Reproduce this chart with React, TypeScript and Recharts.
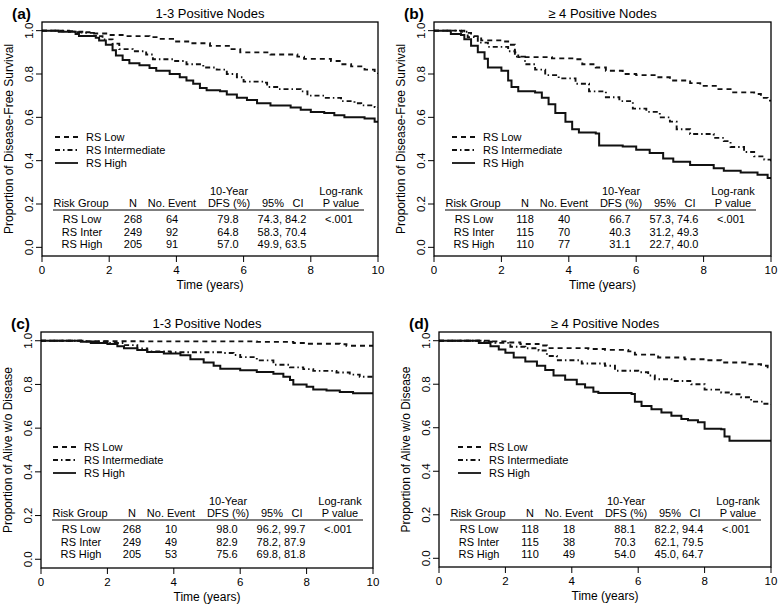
import React from 'react';
import { LineChart, Line, XAxis, YAxis } from 'recharts';

type Pt = [number, number];

// (a) 1-3 positive nodes, disease-free survival
const lowA: Pt[] = [[0, 1], [0.6, 0.997], [1.0, 0.993], [1.5, 0.987], [2.0, 0.98], [2.4, 0.975], [3.2, 0.97], [3.5, 0.962], [3.9, 0.95], [4.4, 0.942], [5.0, 0.93], [5.6, 0.915], [5.9, 0.9], [6.8, 0.89], [7.6, 0.88], [7.8, 0.87], [8.6, 0.86], [8.9, 0.845], [9.2, 0.835], [9.6, 0.82], [9.9, 0.805], [10, 0.8]];
const interA: Pt[] = [[0, 1], [0.8, 0.995], [1.2, 0.99], [1.6, 0.975], [1.8, 0.96], [2.1, 0.94], [2.3, 0.915], [2.7, 0.905], [3.1, 0.89], [3.3, 0.868], [3.9, 0.86], [4.3, 0.845], [4.8, 0.83], [5.2, 0.82], [5.5, 0.8], [5.8, 0.785], [6.0, 0.765], [6.6, 0.76], [6.7, 0.74], [7.0, 0.73], [7.7, 0.72], [7.9, 0.7], [8.4, 0.69], [8.9, 0.675], [9.3, 0.665], [9.5, 0.655], [9.9, 0.648], [10, 0.645]];
const highA: Pt[] = [[0, 1], [0.5, 0.995], [1.0, 0.985], [1.1, 0.975], [1.6, 0.967], [1.7, 0.955], [1.9, 0.935], [2.1, 0.91], [2.2, 0.885], [2.4, 0.865], [2.6, 0.85], [2.9, 0.84], [3.2, 0.828], [3.4, 0.815], [3.8, 0.8], [4.1, 0.785], [4.3, 0.77], [4.5, 0.755], [4.7, 0.735], [4.9, 0.725], [5.3, 0.72], [5.5, 0.705], [5.8, 0.69], [6.1, 0.68], [6.4, 0.665], [6.8, 0.655], [7.4, 0.645], [7.7, 0.635], [8.0, 0.625], [8.4, 0.62], [8.7, 0.61], [9.0, 0.6], [9.6, 0.595], [9.9, 0.58], [10, 0.575]];

// (b) >=4 positive nodes, disease-free survival
const lowB: Pt[] = [[0, 1], [0.9, 0.99], [1.1, 0.975], [1.4, 0.955], [2.0, 0.95], [2.2, 0.935], [2.4, 0.9], [2.5, 0.878], [3.5, 0.872], [4.2, 0.868], [4.4, 0.845], [4.8, 0.83], [5.1, 0.815], [5.6, 0.8], [6.0, 0.795], [6.6, 0.785], [7.0, 0.77], [7.6, 0.758], [7.9, 0.745], [8.4, 0.73], [8.8, 0.715], [9.5, 0.708], [9.7, 0.69], [9.9, 0.677], [10, 0.675]];
const interB: Pt[] = [[0, 1], [0.8, 0.995], [1.0, 0.97], [1.3, 0.945], [1.6, 0.925], [2.2, 0.905], [2.4, 0.88], [2.7, 0.845], [3.0, 0.82], [3.3, 0.795], [3.7, 0.78], [4.2, 0.755], [4.6, 0.72], [5.1, 0.693], [5.5, 0.675], [5.9, 0.64], [6.3, 0.625], [6.7, 0.6], [7.0, 0.58], [7.2, 0.545], [7.6, 0.523], [8.3, 0.505], [8.6, 0.49], [8.8, 0.463], [9.2, 0.44], [9.5, 0.42], [9.8, 0.405], [10, 0.395]];
const highB: Pt[] = [[0, 1], [0.5, 0.985], [0.8, 0.98], [0.9, 0.96], [1.1, 0.93], [1.3, 0.9], [1.5, 0.87], [1.6, 0.83], [2.0, 0.815], [2.2, 0.77], [2.3, 0.74], [2.5, 0.72], [3.0, 0.715], [3.2, 0.69], [3.4, 0.66], [3.6, 0.62], [3.9, 0.58], [4.1, 0.545], [4.3, 0.53], [4.8, 0.525], [4.9, 0.47], [5.6, 0.465], [6.0, 0.45], [6.4, 0.435], [6.8, 0.41], [7.1, 0.395], [7.6, 0.38], [8.3, 0.365], [8.6, 0.353], [9.1, 0.345], [9.6, 0.335], [9.9, 0.32], [10, 0.318]];

// (c) 1-3 positive nodes, alive without disease
const lowC: Pt[] = [[0, 1], [1.3, 0.998], [3.0, 0.997], [6.5, 0.995], [7.6, 0.99], [8.0, 0.986], [9.0, 0.984], [9.2, 0.977], [10, 0.977]];
const interC: Pt[] = [[0, 1], [1.3, 0.997], [2.0, 0.99], [2.5, 0.98], [2.9, 0.965], [3.2, 0.951], [3.9, 0.947], [5.5, 0.944], [5.8, 0.935], [6.0, 0.925], [6.5, 0.91], [7.0, 0.89], [7.5, 0.878], [7.9, 0.87], [8.2, 0.862], [8.9, 0.855], [9.3, 0.845], [9.6, 0.835], [10, 0.83]];
const highC: Pt[] = [[0, 1], [1.2, 0.995], [1.5, 0.99], [2.0, 0.985], [2.3, 0.975], [2.5, 0.966], [2.9, 0.958], [3.2, 0.948], [3.7, 0.942], [4.2, 0.934], [4.5, 0.915], [4.9, 0.9], [5.2, 0.885], [5.4, 0.872], [6.0, 0.865], [6.5, 0.857], [7.0, 0.849], [7.3, 0.835], [7.5, 0.82], [7.6, 0.8], [8.0, 0.79], [8.2, 0.777], [8.6, 0.772], [9.0, 0.765], [9.4, 0.76], [10, 0.755]];

// (d) >=4 positive nodes, alive without disease
const lowD: Pt[] = [[0, 1], [1.5, 0.997], [2.0, 0.992], [2.45, 0.985], [3.0, 0.978], [3.25, 0.966], [4.5, 0.962], [5.0, 0.958], [5.7, 0.951], [5.9, 0.936], [6.6, 0.923], [7.4, 0.915], [8.0, 0.91], [8.5, 0.9], [9.3, 0.892], [9.7, 0.885], [9.9, 0.878], [10, 0.876]];
const interD: Pt[] = [[0, 1], [1.3, 0.995], [1.7, 0.99], [2.15, 0.972], [2.6, 0.965], [3.0, 0.955], [3.25, 0.93], [3.55, 0.91], [4.3, 0.895], [5.0, 0.885], [5.3, 0.862], [6.0, 0.855], [6.3, 0.84], [6.5, 0.823], [7.0, 0.815], [7.6, 0.8], [8.0, 0.775], [8.5, 0.762], [8.8, 0.754], [9.1, 0.74], [9.4, 0.72], [9.8, 0.71], [10, 0.707]];
const highD: Pt[] = [[0, 1], [1.2, 0.99], [1.55, 0.975], [1.8, 0.96], [2.0, 0.945], [2.25, 0.923], [2.6, 0.905], [2.95, 0.885], [3.2, 0.865], [3.45, 0.84], [3.8, 0.82], [4.15, 0.8], [4.4, 0.785], [4.65, 0.765], [4.8, 0.76], [5.8, 0.755], [5.9, 0.72], [6.1, 0.7], [6.4, 0.685], [6.7, 0.67], [7.0, 0.655], [7.3, 0.64], [7.5, 0.635], [7.8, 0.625], [8.0, 0.595], [8.5, 0.593], [8.6, 0.56], [8.75, 0.54], [10, 0.54]];

// table rows: group, N, events, 10-year %, 95% CI, log-rank p
const tableA = [['RS Low', '268', '64', '79.8', '74.3, 84.2', '<.001'], ['RS Inter', '249', '92', '64.8', '58.3, 70.4', ''], ['RS High', '205', '91', '57.0', '49.9, 63.5', '']];
const tableB = [['RS Low', '118', '40', '66.7', '57.3, 74.6', '<.001'], ['RS Inter', '115', '70', '40.3', '31.2, 49.3', ''], ['RS High', '110', '77', '31.1', '22.7, 40.0', '']];
const tableC = [['RS Low', '268', '10', '98.0', '96.2, 99.7', '<.001'], ['RS Inter', '249', '49', '82.9', '78.2, 87.9', ''], ['RS High', '205', '53', '75.6', '69.8, 81.8', '']];
const tableD = [['RS Low', '118', '18', '88.1', '82.2, 94.4', '<.001'], ['RS Inter', '115', '38', '70.3', '62.1, 79.5', ''], ['RS High', '110', '49', '54.0', '45.0, 64.7', '']];

const xTicks = [0, 2, 4, 6, 8, 10];
const yTicks = [0, 0.2, 0.4, 0.6, 0.8, 1.0];
const legendNames = ['RS Low', 'RS Intermediate', 'RS High'];

const FONT = '"Liberation Sans", Arial, Helvetica, sans-serif';
const DASH_LOW = '5 4';
const DASH_INTER = '5 3 1.5 3';
const PL = 42; // plot offset inside each chart
const PT = 22;
const RIGHT = 9;
const BOTTOM = 45;

const panels = [
  { letter: '(a)', title: '1-3 Positive Nodes', yLabel: 'Proportion of Disease-Free Survival', box: [42, 22, 378, 256], legendX: 13, low: lowA, inter: interA, high: highA, rows: tableA },
  { letter: '(b)', title: '\u2265 4 Positive Nodes', yLabel: 'Proportion of Disease-Free Survival', box: [434, 22, 771, 256], legendX: 18, low: lowB, inter: interB, high: highB, rows: tableB },
  { letter: '(c)', title: '1-3 Positive Nodes', yLabel: 'Proportion of Alive w/o Disease', box: [41, 332, 373, 568], legendX: 12, low: lowC, inter: interC, high: highC, rows: tableC },
  { letter: '(d)', title: '\u2265 4 Positive Nodes', yLabel: 'Proportion of Alive w/o Disease', box: [439, 332, 771, 567], legendX: 19, low: lowD, inter: interD, high: highD, rows: tableD },
];

const colX = [40, 91, 130, 186, 240, 297];

const toRows = (pts: Pt[]) => pts.map(([t, s]) => ({ t, s }));

const YTick = (props: any) => {
  const { y, payload } = props;
  const x = PL - 13;
  return (
    <text x={x} y={y} transform={`rotate(-90, ${x}, ${y})`} textAnchor="middle" dominantBaseline="central" fontSize={11.5} fill="#000" fontFamily={FONT}>
      {Number(payload.value).toFixed(1)}
    </text>
  );
};

const Panel = ({ p }: { p: (typeof panels)[number] }) => {
  const [l, t, r, b] = p.box;
  const w = r - l;
  const h = b - t;
  const cw = PL + w + RIGHT;
  const ch = PT + h + BOTTOM;
  const cx = PL + w / 2;
  const txt = { fontFamily: FONT, fill: '#000' };
  const lgY = [PT + 115, PT + 128, PT + 141];
  const lgDash = [DASH_LOW, DASH_INTER, undefined];
  return (
    <div style={{ position: 'absolute', left: l - PL, top: t - PT, width: cw, height: ch }}>
      <LineChart width={cw} height={ch} margin={{ top: PT, right: RIGHT, bottom: 0, left: 0 }}>
        <XAxis type="number" dataKey="t" domain={[0, 10]} ticks={xTicks} allowDataOverflow height={BOTTOM}
          axisLine={false} tickSize={6} tickMargin={4} tickLine={{ stroke: '#000' }}
          tick={{ fill: '#000', fontSize: 11.5, fontFamily: FONT }} interval={0} />
        <YAxis type="number" domain={[-0.04, 1.04]} ticks={yTicks} allowDataOverflow width={PL}
          axisLine={false} tickSize={6} tickLine={{ stroke: '#000' }} tick={<YTick />} interval={0} />
        <Line data={toRows(p.low)} dataKey="s" type="stepAfter" stroke="#111" strokeWidth={1.9} strokeDasharray={DASH_LOW} dot={false} isAnimationActive={false} />
        <Line data={toRows(p.inter)} dataKey="s" type="stepAfter" stroke="#111" strokeWidth={1.9} strokeDasharray={DASH_INTER} dot={false} isAnimationActive={false} />
        <Line data={toRows(p.high)} dataKey="s" type="stepAfter" stroke="#111" strokeWidth={2} dot={false} isAnimationActive={false} />
      </LineChart>
      <svg width={cw} height={ch} style={{ position: 'absolute', left: 0, top: 0, pointerEvents: 'none', overflow: 'visible' }}>
        <rect x={PL} y={PT} width={w} height={h} fill="none" stroke="#000" strokeWidth={1.3} />
        <text x={12} y={PT - 9} dominantBaseline="central" fontSize={15.5} fontWeight="bold" {...txt}>{p.letter}</text>
        <text x={cx} y={PT - 9} textAnchor="middle" dominantBaseline="central" fontSize={13} {...txt}>{p.title}</text>
        <text x={cx} y={PT + h + 29} textAnchor="middle" dominantBaseline="central" fontSize={12} {...txt}>Time (years)</text>
        <text x={PL - 33} y={PT + h / 2} transform={`rotate(-90, ${PL - 33}, ${PT + h / 2})`} textAnchor="middle" dominantBaseline="central" fontSize={12} {...txt}>{p.yLabel}</text>
        {legendNames.map((name, i) => (
          <g key={name}>
            <line x1={PL + p.legendX} x2={PL + p.legendX + 23} y1={lgY[i]} y2={lgY[i]} stroke="#111" strokeWidth={1.8} strokeDasharray={lgDash[i]} />
            <text x={PL + p.legendX + 31} y={lgY[i]} dominantBaseline="central" fontSize={11} {...txt}>{name}</text>
          </g>
        ))}
        <g fontSize={11} textAnchor="middle" dominantBaseline="central" {...txt}>
          <text x={PL + 187} y={PT + 169}>10-Year</text>
          <text x={PL + 299} y={PT + 169}>Log-rank</text>
          <text x={PL + 39} y={PT + 181}>Risk Group</text>
          <text x={PL + colX[1]} y={PT + 181}>N</text>
          <text x={PL + colX[2]} y={PT + 181}>No. Event</text>
          <text x={PL + 187} y={PT + 181}>DFS (%)</text>
          <text x={PL + 231} y={PT + 181}>95%</text>
          <text x={PL + 256} y={PT + 181}>CI</text>
          <text x={PL + 299} y={PT + 181}>P value</text>
          {p.rows.map((row, ri) =>
            row.map((cell, ci) => (
              <text key={`${ri}-${ci}`} x={PL + colX[ci]} y={PT + 197 + ri * 12.5}>{cell}</text>
            ))
          )}
        </g>
        <line x1={PL + 11} x2={PL + 322} y1={PT + 188} y2={PT + 188} stroke="#000" strokeWidth={1.2} />
      </svg>
    </div>
  );
}

export default function App() {
  return (
    <div style={{ position: 'absolute', left: 0, top: 0, width: 780, height: 607, overflow: 'hidden', background: '#fff' }}>
      {panels.map((p) => (
        <Panel key={p.letter} p={p} />
      ))}
    </div>
  );
}
